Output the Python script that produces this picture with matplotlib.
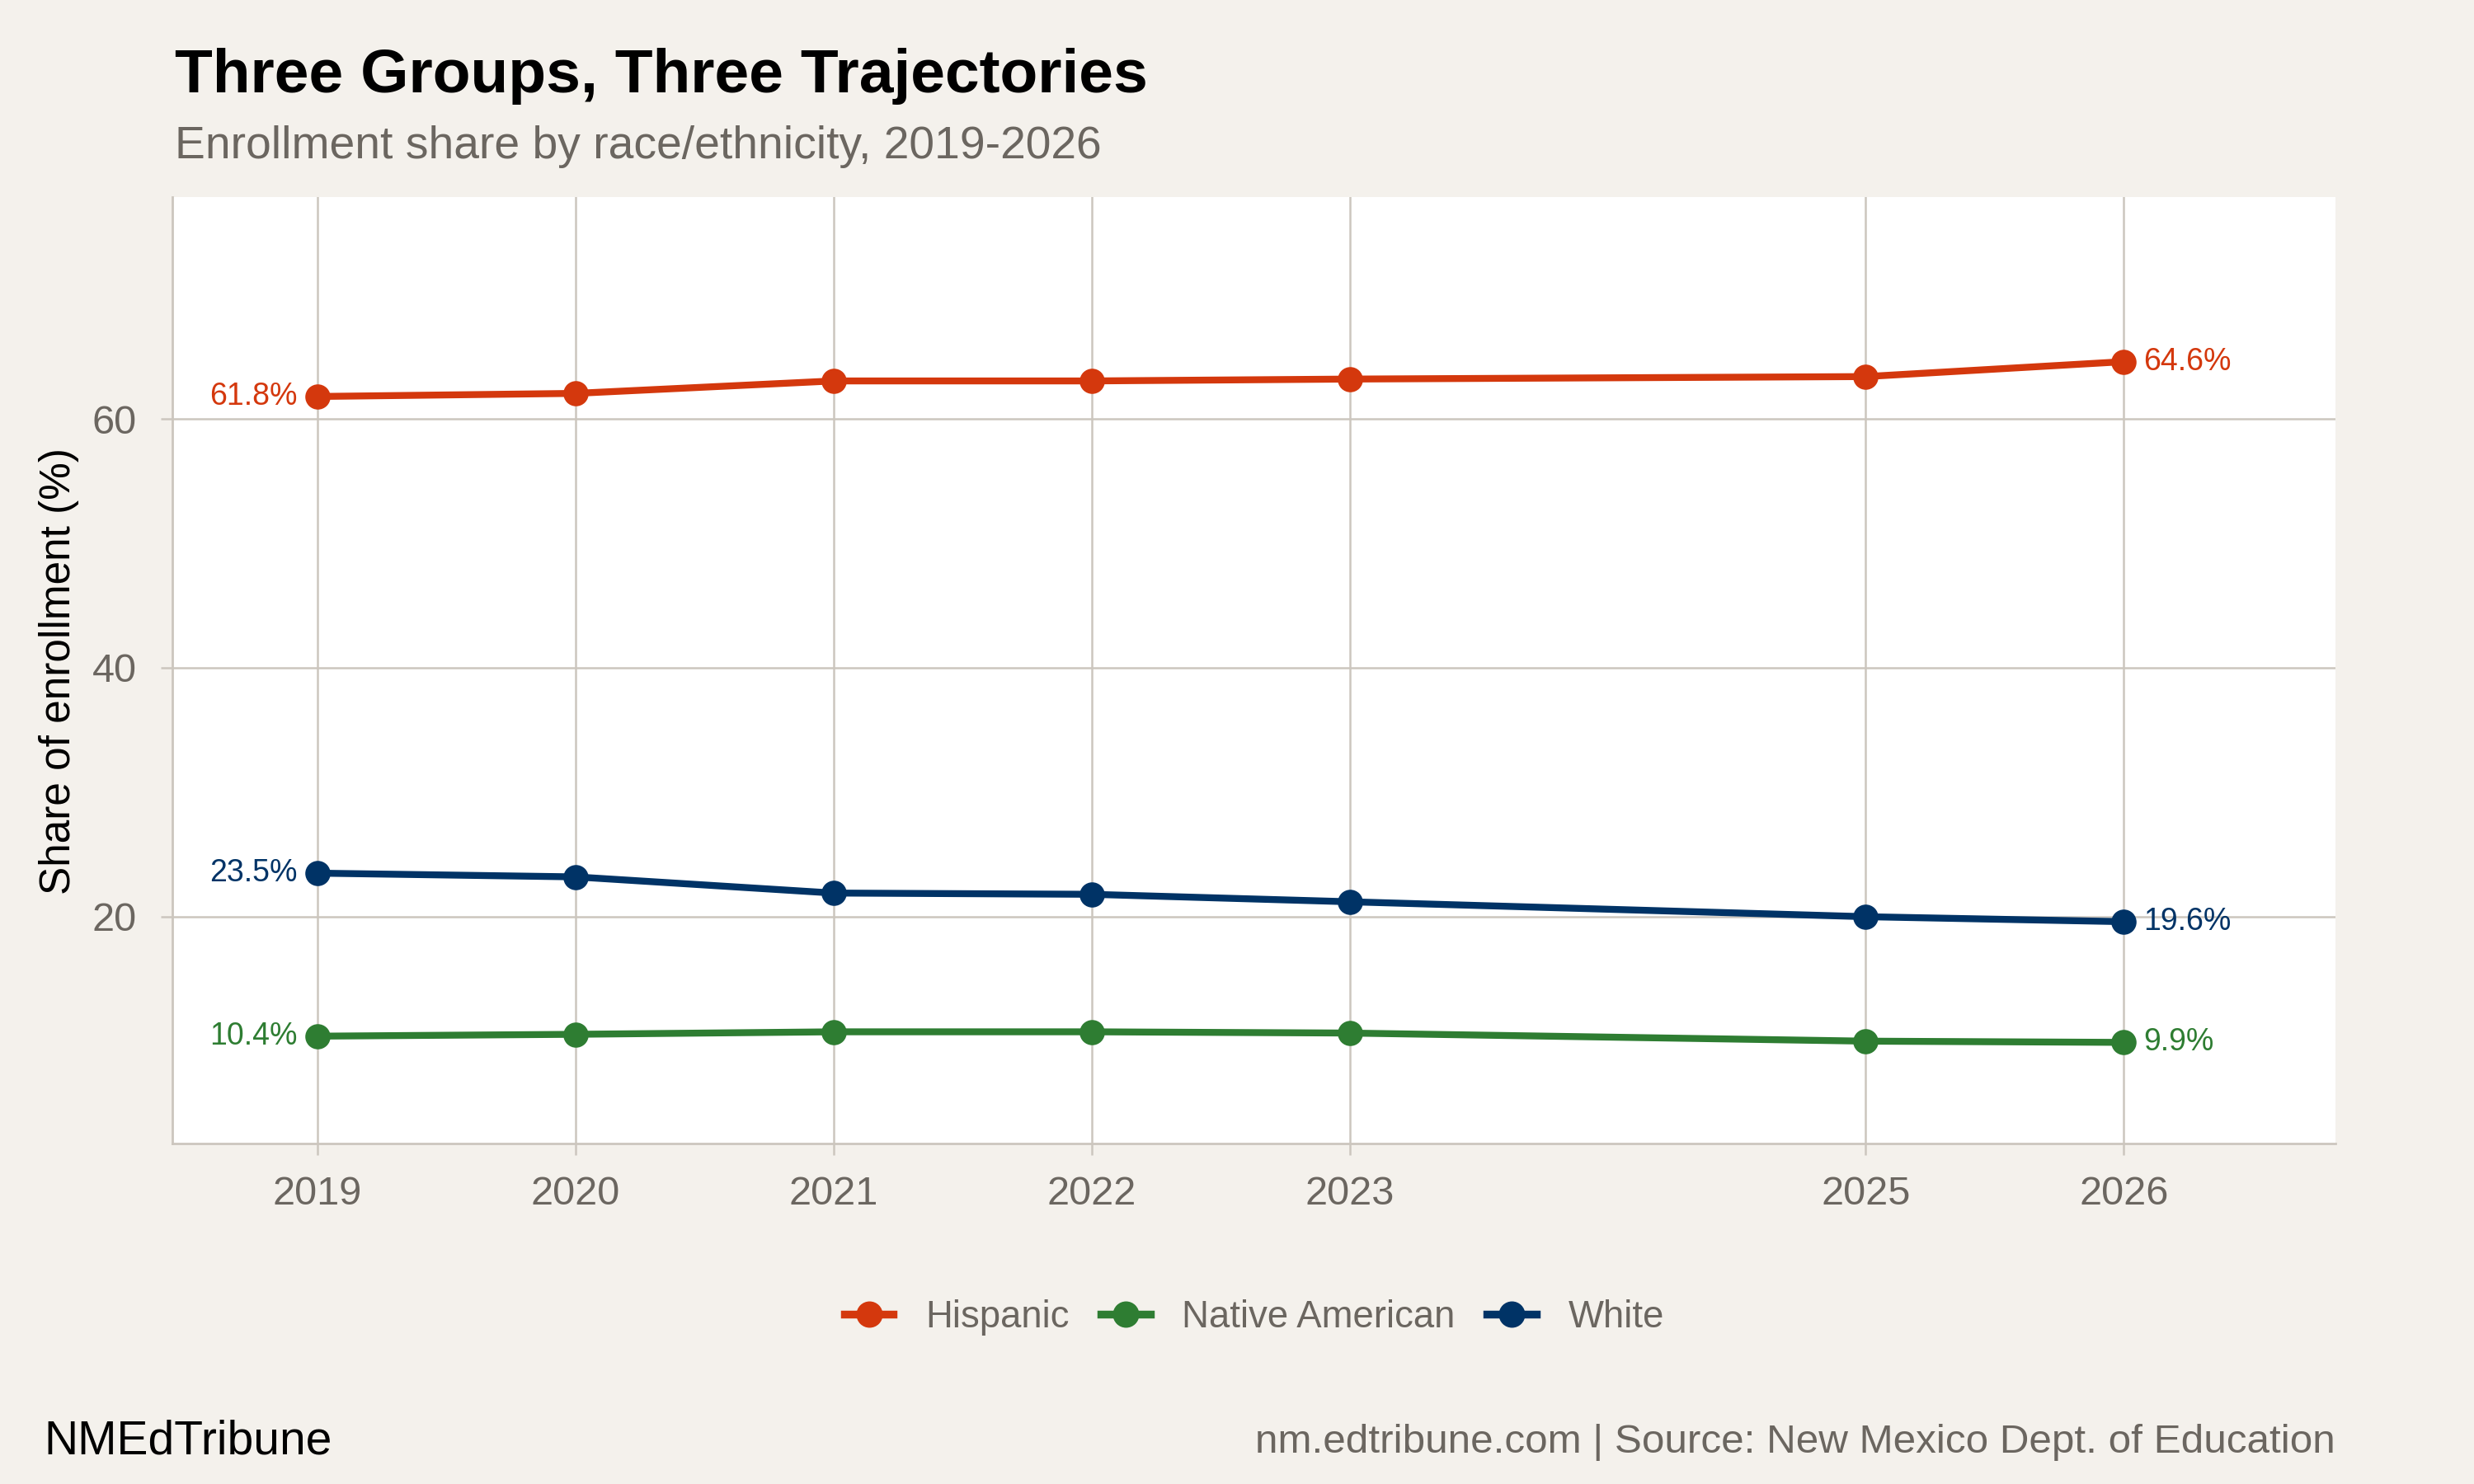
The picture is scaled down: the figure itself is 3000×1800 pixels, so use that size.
import matplotlib
matplotlib.use("Agg")
import matplotlib.pyplot as plt
from matplotlib.lines import Line2D

years = [2019, 2020, 2021, 2022, 2023, 2025, 2026]
hispanic = [61.8, 62.05, 63.05, 63.05, 63.2, 63.4, 64.6]
native = [10.4, 10.55, 10.75, 10.75, 10.65, 10.0, 9.9]
white = [23.5, 23.2, 21.9, 21.8, 21.2, 20.0, 19.6]

groups = ["Hispanic", "Native American", "White"]
colors = ["#D4380D", "#2E7D32", "#003366"]
series = [hispanic, native, white]

bg = "#F4F1EC"
grid_col = "#CCC6BE"
grey_txt = "#6B6660"

plt.rcParams["font.family"] = ["Liberation Sans", "DejaVu Sans"]

fig = plt.figure(figsize=(15, 9), dpi=200, facecolor=bg)
ax = fig.add_axes([0.0695, 0.2294, 0.944 - 0.0695, 0.867 - 0.2294])
ax.set_facecolor("white")

for name, vals, col in zip(groups, series, colors):
    ax.plot(years, vals, color=col, lw=3.0, marker="o", ms=10,
            solid_capstyle="butt", zorder=3)
    ax.annotate(f"{vals[0]:.1f}%", (years[0], vals[0]), xytext=(-8.5, 0),
                textcoords="offset points", ha="right", va="center",
                color=col, fontsize=13.5)
    ax.annotate(f"{vals[-1]:.1f}%", (years[-1], vals[-1]), xytext=(8.5, 0),
                textcoords="offset points", ha="left", va="center",
                color=col, fontsize=13.5)

ax.set_xlim(2018.437, 2026.82)
ax.set_ylim(1.77, 77.8)
ax.set_xticks(years)
ax.set_yticks([20, 40, 60])
ax.grid(True, color=grid_col, lw=0.9, zorder=0)
ax.set_axisbelow(True)

for s in ["top", "right"]:
    ax.spines[s].set_visible(False)
for s in ["left", "bottom"]:
    ax.spines[s].set_color(grid_col)
    ax.spines[s].set_linewidth(1.0)

ax.tick_params(axis="both", colors=grid_col, labelcolor=grey_txt,
               labelsize=17.5, length=5, width=0.9)
ax.tick_params(axis="x", pad=9)
ax.tick_params(axis="y", pad=10.5)

fig.text(0.0237, 0.548, "Share of enrollment (%)", rotation=90,
         ha="center", va="center", fontsize=18.5, color="black")

fig.text(0.0708, 0.938, "Three Groups, Three Trajectories", fontsize=27,
         fontweight="bold", color="black", ha="left", va="baseline")
fig.text(0.0708, 0.8935, "Enrollment share by race/ethnicity, 2019-2026",
         fontsize=19.9, color=grey_txt, ha="left", va="baseline")

handles = [Line2D([0], [0], color=c, lw=3.4, marker="o", ms=10.5)
           for c in colors]
fig.legend(handles, groups, loc="center", bbox_to_anchor=(0.507, 0.112),
           ncol=3, frameon=False, fontsize=16.4, labelcolor=grey_txt,
           handlelength=1.3, handletextpad=0.85, columnspacing=0.85)

fig.text(0.0177, 1 - 1764 / 1800, "NMEdTribune", fontsize=20.5,
         color="black", ha="left", va="baseline")
fig.text(0.944, 1 - 1762 / 1800,
         "nm.edtribune.com | Source: New Mexico Dept. of Education",
         fontsize=17.8, color=grey_txt, ha="right", va="baseline")

fig.savefig("out.png", dpi=200, facecolor=bg)
